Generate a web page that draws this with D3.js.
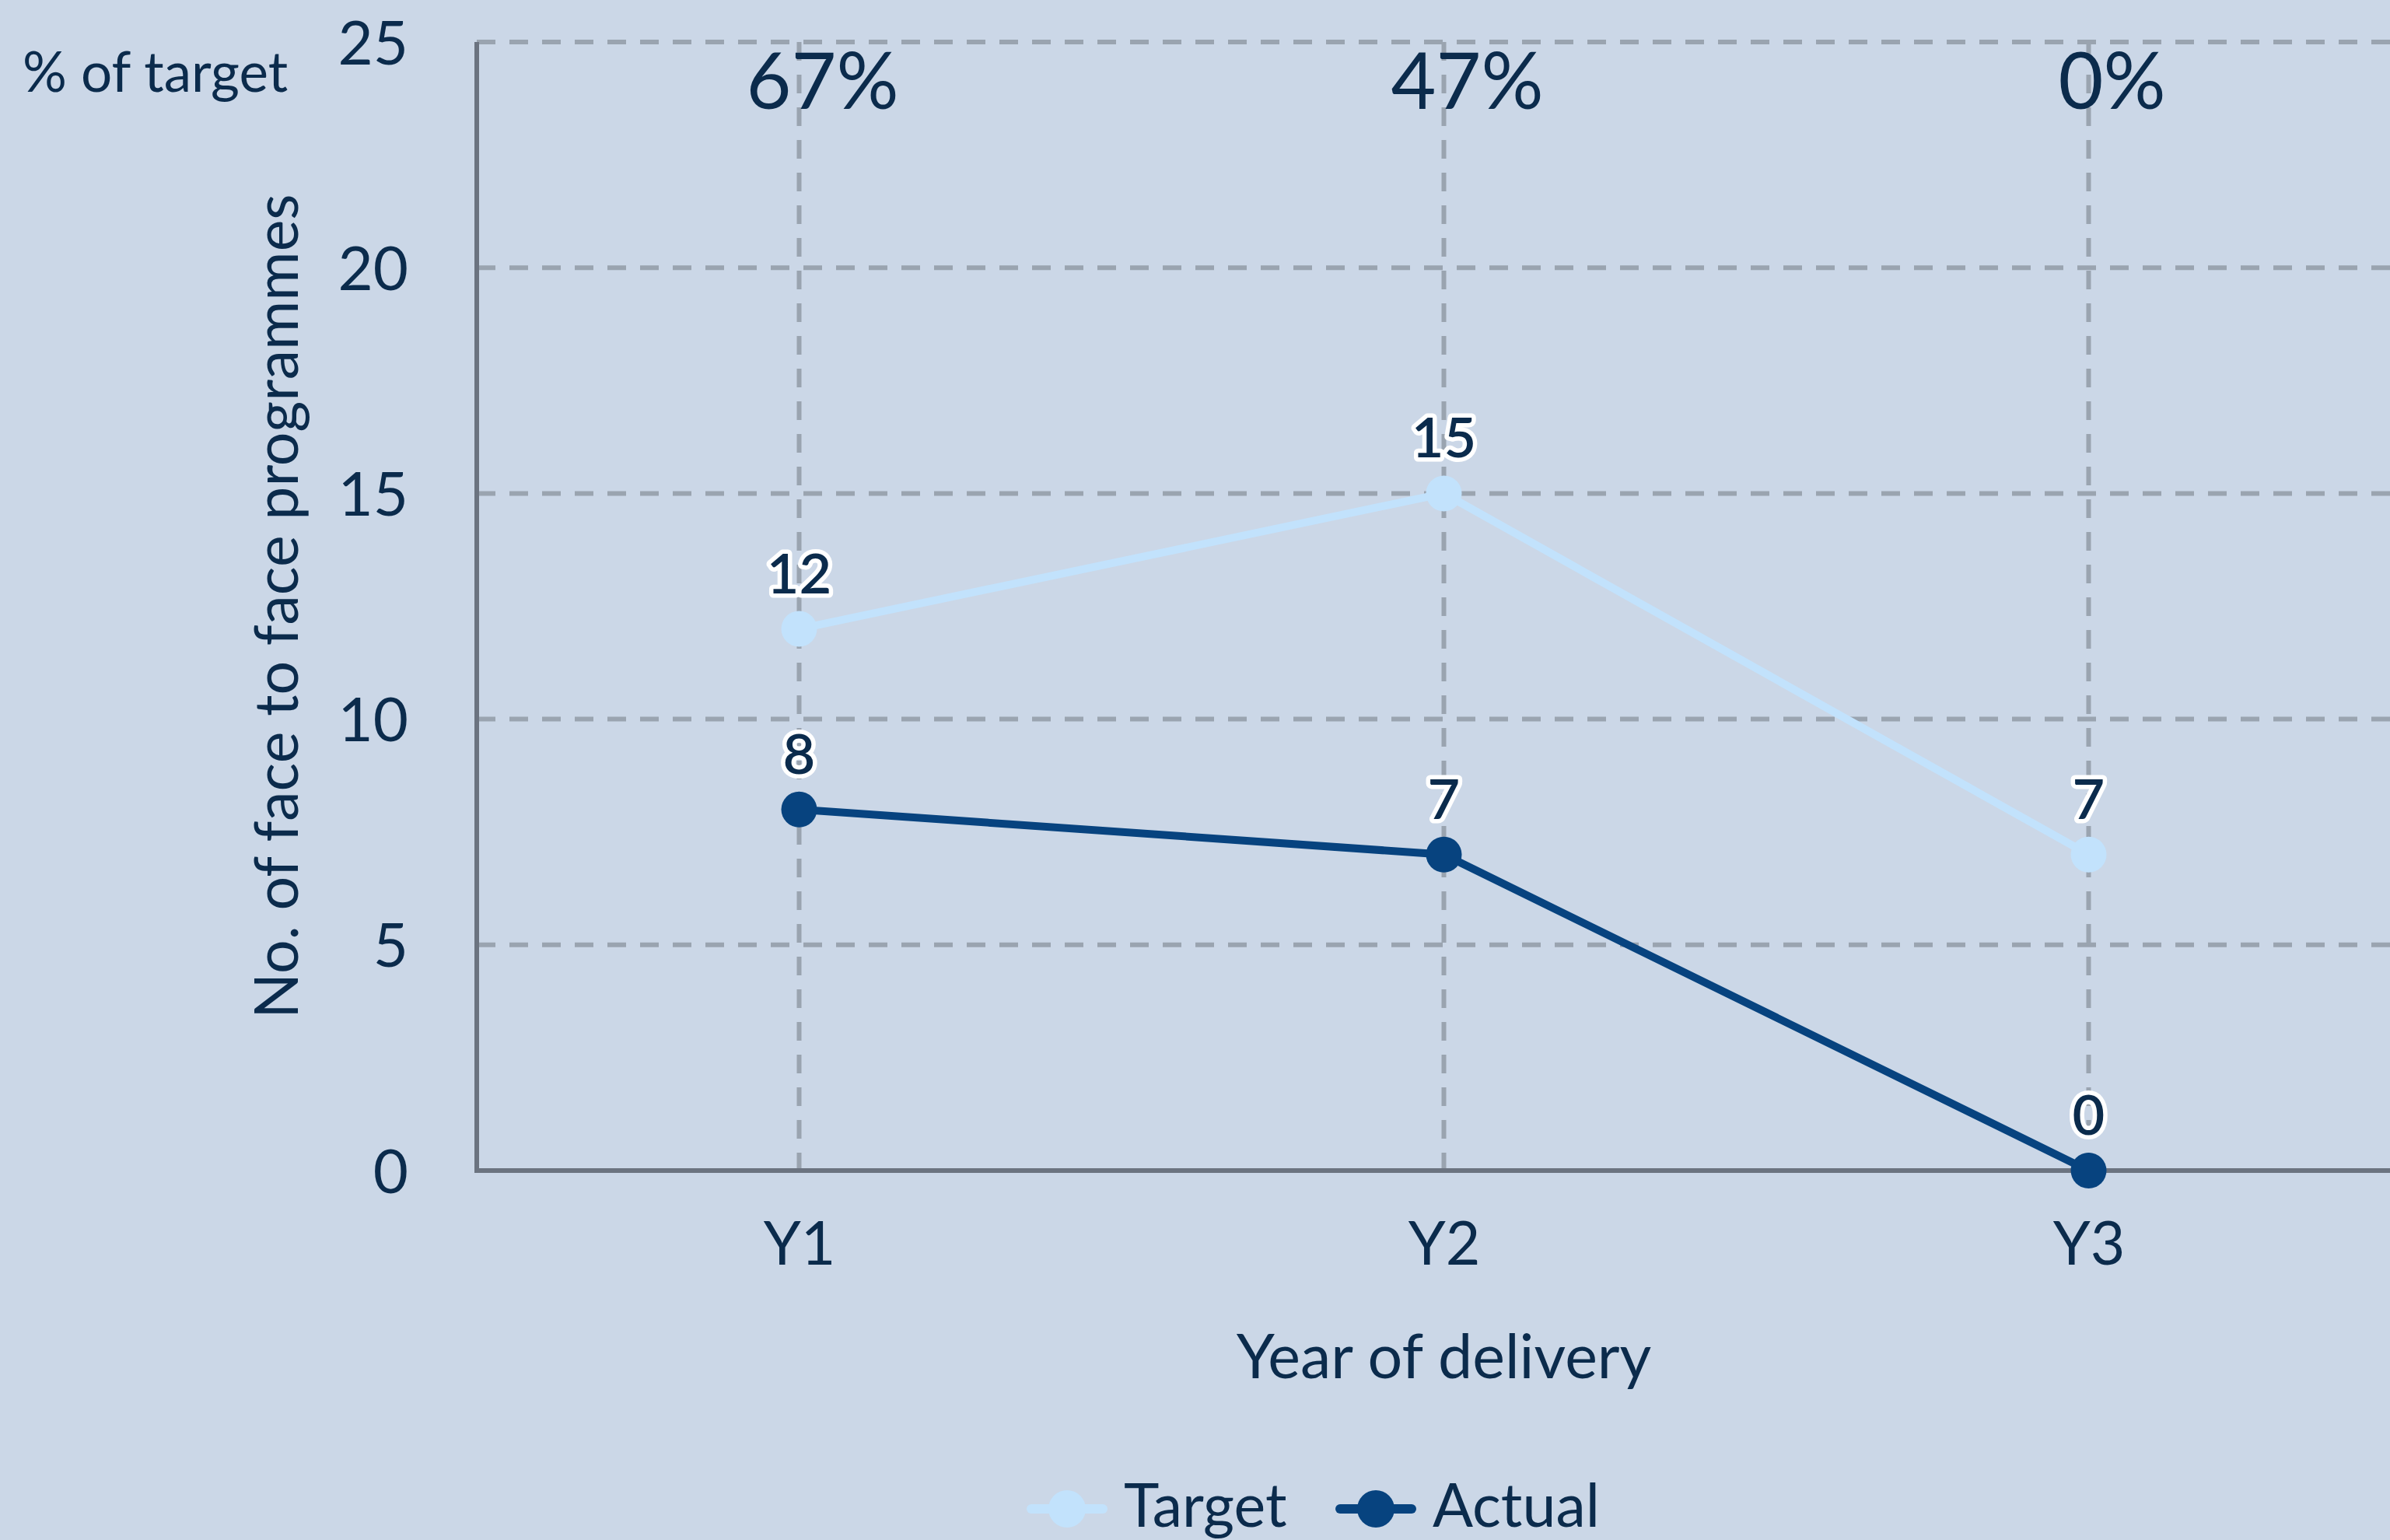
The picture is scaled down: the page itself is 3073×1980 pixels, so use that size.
<!DOCTYPE html>
<html lang="en">
<head>
<meta charset="UTF-8">
<title>Face to face programmes</title>
<script src="https://cdn.jsdelivr.net/npm/d3@7"></script>
<style>
    html, body { margin: 0; padding: 0; background: #cbd7e7; }
    svg { display: block; font-family: Lato, "Open Sans", sans-serif; }
</style>
</head>
<body>
<script>
    // data
    var categories = ["Y1", "Y2", "Y3"];
    var targetValues = [12, 15, 7];
    var actualValues = [8, 7, 0];
    var pctLabels = ["67%", "47%", "0%"];
    var yTicks = [0, 5, 10, 15, 20, 25];
    var seriesNames = ["Target", "Actual"];

    var width = 3073, height = 1980;
    var textColor = "#0b2b4c";
    var colors = {Target: "#c2e2fc", Actual: "#07437f"};
    var gridColor = "#9aa4b0";
    var axisColor = "#6b7380";

    var svg = d3.select("body").append("svg")
        .attr("width", width).attr("height", height);
    svg.append("rect").attr("width", width).attr("height", height).attr("fill", "#cbd7e7");

    var plot = {left: 613, right: 3100, top: 54, bottom: 1505};

    var x = d3.scalePoint().domain(categories).range([plot.left, plot.right]).padding(0.5);
    var y = d3.scaleLinear().domain([0, 25]).range([plot.bottom, plot.top]);

    // horizontal grid
    svg.append("g").selectAll("line").data(yTicks.filter(function(d){ return d > 0; }))
        .enter().append("line")
        .attr("x1", plot.left).attr("x2", width)
        .attr("y1", function(d){ return y(d); }).attr("y2", function(d){ return y(d); })
        .attr("stroke", gridColor).attr("stroke-width", 6).attr("stroke-dasharray", "24,18");

    // vertical grid
    svg.append("g").selectAll("line").data(categories)
        .enter().append("line")
        .attr("x1", function(d){ return x(d); }).attr("x2", function(d){ return x(d); })
        .attr("y1", plot.top).attr("y2", plot.bottom)
        .attr("stroke", gridColor).attr("stroke-width", 6).attr("stroke-dasharray", "24,18");

    // y axis labels
    var yAxis = svg.append("g").attr("transform", "translate(" + plot.left + ",0)")
        .call(d3.axisLeft(y).tickValues(yTicks).tickSize(0).tickPadding(88));
    yAxis.select(".domain").remove();
    yAxis.selectAll("text").attr("font-size", 78).attr("fill", textColor)
        .attr("font-family", "Lato").attr("dy", "0.36em");

    // x axis labels
    var xAxis = svg.append("g").attr("transform", "translate(0," + plot.bottom + ")")
        .call(d3.axisBottom(x).tickSize(0).tickPadding(66));
    xAxis.select(".domain").remove();
    xAxis.selectAll("text").attr("font-size", 77).attr("fill", textColor)
        .attr("font-family", "Lato").attr("dy", "0.71em");

    // axis lines
    svg.append("line").attr("x1", plot.left).attr("x2", plot.left)
        .attr("y1", plot.top).attr("y2", plot.bottom)
        .attr("stroke", axisColor).attr("stroke-width", 6);
    svg.append("line").attr("x1", plot.left - 3).attr("x2", width)
        .attr("y1", plot.bottom).attr("y2", plot.bottom)
        .attr("stroke", axisColor).attr("stroke-width", 6);

    // series
    var series = [
        {name: "Target", values: targetValues},
        {name: "Actual", values: actualValues}
    ];
    var line = d3.line()
        .x(function(d, i){ return x(categories[i]); })
        .y(function(d){ return y(d); });

    series.forEach(function(s){
        svg.append("path").datum(s.values)
            .attr("d", line).attr("fill", "none")
            .attr("stroke", colors[s.name]).attr("stroke-width", 10);
        svg.append("g").selectAll("circle").data(s.values)
            .enter().append("circle")
            .attr("cx", function(d, i){ return x(categories[i]); })
            .attr("cy", function(d){ return y(d); })
            .attr("r", 23)
            .attr("fill", colors[s.name]);
    });

    // value labels
    series.forEach(function(s){
        svg.append("g").selectAll("text").data(s.values)
            .enter().append("text")
            .attr("x", function(d, i){ return x(categories[i]); })
            .attr("y", function(d){ return y(d) - 46; })
            .attr("text-anchor", "middle")
            .attr("font-size", 72)
            .attr("font-weight", 600)
            .attr("fill", textColor)
            .attr("stroke", "#ffffff").attr("stroke-width", 11)
            .attr("stroke-linejoin", "round")
            .attr("paint-order", "stroke")
            .text(function(d){ return d; });
    });

    // % of target row
    svg.append("text").attr("x", 29).attr("y", 118)
        .attr("font-size", 71).attr("fill", textColor).text("% of target");
    svg.append("g").selectAll("text").data(pctLabels)
        .enter().append("text")
        .attr("x", function(d, i){ return x(categories[i]) + 30; })
        .attr("y", 140)
        .attr("text-anchor", "middle")
        .attr("font-size", 100)
        .attr("fill", textColor)
        .text(function(d){ return d; });

    // axis titles
    svg.append("text")
        .attr("transform", "translate(383," + ((plot.top + plot.bottom) / 2) + ") rotate(-90)")
        .attr("text-anchor", "middle").attr("font-size", 77).attr("fill", textColor)
        .text("No. of face to face programmes");
    svg.append("text").attr("x", x("Y2")).attr("y", 1772)
        .attr("text-anchor", "middle").attr("font-size", 79).attr("fill", textColor)
        .text("Year of delivery");

    // legend
    var legendX = [1372, 1769];
    var legend = svg.append("g").selectAll("g").data(seriesNames)
        .enter().append("g")
        .attr("transform", function(d, i){ return "translate(" + legendX[i] + ",1940)"; });
    legend.append("line").attr("x1", -46).attr("x2", 46)
        .attr("stroke", function(d){ return colors[d]; })
        .attr("stroke-width", 12).attr("stroke-linecap", "round");
    legend.append("circle").attr("r", 24).attr("fill", function(d){ return colors[d]; });
    legend.append("text").attr("x", 73).attr("y", 23)
        .attr("font-size", 77).attr("fill", textColor)
        .text(function(d){ return d; });
</script>
</body>
</html>
